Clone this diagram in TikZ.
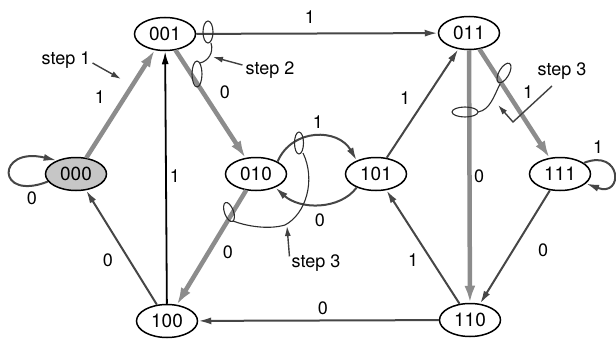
\documentclass[tikz,border=0pt]{standalone}
\usepackage{fontspec}
\setmainfont{TeX Gyre Heros}
\usetikzlibrary{shapes.geometric,arrows.meta}
\begin{document}
\begin{tikzpicture}[x=1pt,y=-1pt,
  state/.style={ellipse,draw=black,line width=1.5pt,fill=white,minimum width=61pt,minimum height=33pt,inner sep=0pt,font=\fontsize{19}{21}\selectfont},
  startstate/.style={state,fill=gray!45},
  lbl/.style={font=\fontsize{18}{20}\selectfont,inner sep=0pt},
  heavy/.style={draw=black!45,line width=4.5pt,-{Latex[length=17pt,width=11pt]}},
  medium/.style={draw=gray!55!black,line width=2pt,-{Latex[length=13pt,width=7pt]}},
  plain/.style={draw=black,line width=1.8pt,-{Latex[length=13pt,width=7pt]}},
  pointer/.style={draw=gray!50!black,line width=1.4pt,-{Latex[length=10pt,width=6pt]}},
  marker/.style={draw=gray!35!black,line width=1.1pt},
]
\useasboundingbox (0,0) rectangle (616,340);

% states
\node[state] (n001) at (165,34) {001};
\node[state] (n011) at (469,33) {011};
\node[startstate] (n000) at (76,174) {000};
\node[state] (n010) at (256,174) {010};
\node[state] (n101) at (376,174) {101};
\node[state] (n111) at (560,174) {111};
\node[state] (n100) at (167,321) {100};
\node[state] (n110) at (470,320) {110};

% transitions
\draw[heavy] (n000) -- (n001);
\draw[medium] (n001) -- (n011);
\draw[heavy] (n001) -- (n010);
\draw[plain] (n100) -- (n001);
\draw[medium] (n100) -- (n000);
\draw[heavy] (n010) -- (n100);
\draw[medium] (n010.30) .. controls (292,128) and (338,128) .. (n101.145);
\draw[medium] (n101.215) .. controls (340,210) and (300,210) .. (n010.-35);
\draw[medium] (n101) -- (n011);
\draw[medium] (n110) -- (n101);
\draw[heavy] (n011) -- (n110);
\draw[heavy] (n011) -- (n111);
\draw[medium] (n111) -- (n110);
\draw[medium] (n110) -- (n100);
\draw[medium] (n000.195) .. controls (-4,202) and (-4,146) .. (n000.145);
\draw[medium] (n111.25) .. controls (622,148) and (624,198) .. (n111.-20);

% transition labels
\node[lbl] (l1) at (100,97) {1};
\node[lbl] (l2) at (310,17) {1};
\node[lbl] (l3) at (225,92) {0};
\node[lbl] (l4) at (175,176) {1};
\node[lbl] (l5) at (108,260) {0};
\node[lbl] (l6) at (228,252) {0};
\node[lbl] (l7) at (318,122) {1};
\node[lbl] (l8) at (320,220) {0};
\node[lbl] (l9) at (405,98) {1};
\node[lbl] (l10) at (413,260) {1};
\node[lbl] (l11) at (479,176) {0};
\node[lbl] (l12) at (528,92) {1};
\node[lbl] (l13) at (598,147) {1};
\node[lbl] (l14) at (543,250) {0};
\node[lbl] (l15) at (323,308) {0};
\node[lbl] (l16) at (32,198) {0};

% step 1
\node[lbl] (s1) at (66,60) {step 1};
\coordinate (s1tip) at (121,79);
\draw[pointer] (s1.east) ++(2,3) -- (s1tip);

% step 2
\draw[marker] (208,32) ellipse [x radius=5, y radius=11];
\draw[marker] (197,74) ellipse [x radius=5, y radius=13];
\draw[marker] (211,43) .. controls (214,53) and (208,61) .. (200,63);
\node[lbl] (s2) at (270,70) {step 2};
\coordinate (s2tip) at (213,57);
\draw[pointer] (s2.west) ++(-3,-5) -- (s2tip);

% step 3, middle
\draw[marker] (299,143) ellipse [x radius=4.5, y radius=11];
\draw[marker, rotate around={20:(229,212)}] (229,212) ellipse [x radius=4.5, y radius=10];
\draw[marker] (303,153) .. controls (316,180) and (306,214) .. (285,225) .. controls (268,230) and (246,226) .. (233,221);
\node[lbl] (s3a) at (316,263) {step 3};
\coordinate (s3atip) at (287,226);
\draw[pointer] (s3a.north west) ++(-2,2) -- (s3atip);

% step 3, right
\draw[marker] (465,112) ellipse [x radius=13, y radius=5];
\draw[marker, rotate around={-30:(504,73)}] (504,73) ellipse [x radius=5, y radius=11];
\draw[marker] (478,112) .. controls (490,110) and (494,96) .. (500,84);
\node[lbl] (s3b) at (562,71) {step 3};
\coordinate (s3bbend) at (513,122);
\coordinate (s3btip) at (498,105);
\draw[pointer] (552,86) -- (s3bbend) -- (s3btip);
\end{tikzpicture}
\end{document}
